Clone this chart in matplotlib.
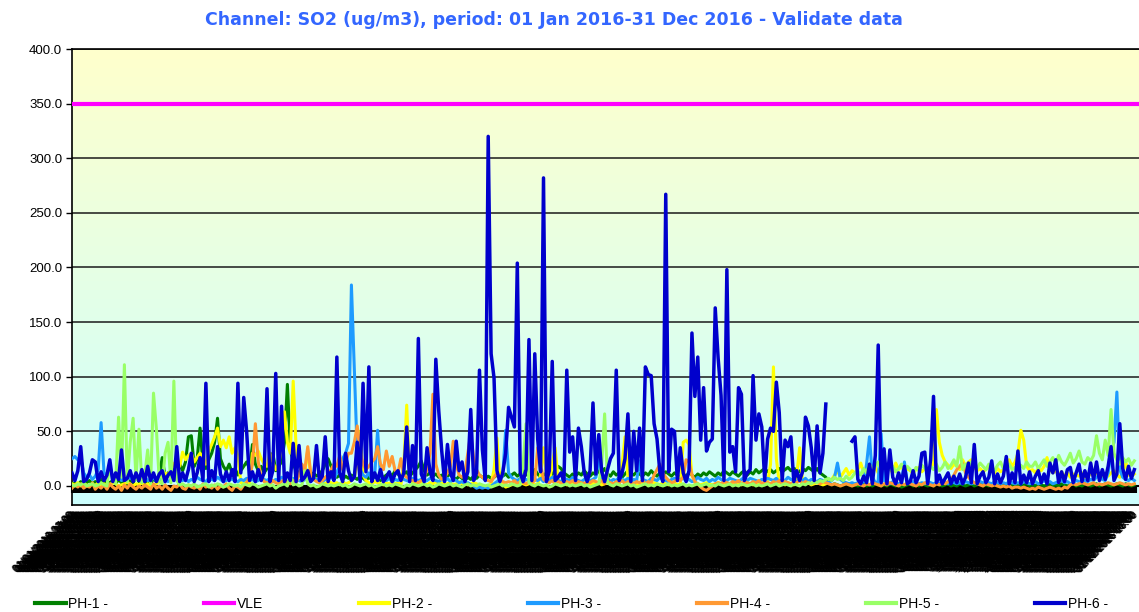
import numpy as np
import pandas as pd
import matplotlib
matplotlib.use("Agg")
import matplotlib.pyplot as plt
from matplotlib.lines import Line2D

nan = np.nan

# ---------------- data (daily readings) ----------------
ph1 = [2, 3, 1, 4, 2, 3, 5, 2, 4, 3,
       6, 2, 4, 3, 5, 2, 6, 3, 4, 2,
       5, 3, 8, 4, 6, 3, 5, 2, 7, 4,
       10, 26, 8, 12, 9, 15, 11, 20, 14, 22,
       45, 46, 18, 25, 53, 20, 16, 24, 30, 40,
       62, 25, 18, 14, 20, 12, 16, 10, 14, 18,
       22, 16, 38, 20, 14, 18, 12, 16, 20, 30,
       14, 18, 22, 40, 93, 35, 20, 14, 12, 16,
       18, 10, 8, 12, 9, 11, 14, 20, 25, 18,
       12, 8, 10, 6, 9, 7, 10, 8, 6, 9,
       7, 5, 8, 6, 9, 7, 5, 8, 10, 12,
       9, 14, 11, 8, 10, 13, 9, 12, 15, 18,
       23, 14, 10, 12, 9, 11, 8, 10, 7, 9,
       11, 8, 6, 9, 7, 5, 8, 6, 9, 7,
       10, 8, 6, 9, 7, 8, 10, 12, 9, 11,
       8, 10, 12, 9, 11, 14, 10, 12, 9, 15,
       11, 8, 10, 12, 9, 11, 14, 18, 16, 12,
       10, 8, 11, 9, 12, 10, 14, 11, 9, 12,
       10, 14, 12, 16, 11, 9, 13, 10, 12, 8,
       11, 14, 12, 10, 13, 11, 9, 12, 10, 14,
       11, 9, 12, 10, 13, 11, 9, 12, 10, 8,
       11, 9, 12, 10, 8, 11, 9, 12, 10, 13,
       11, 9, 12, 10, 14, 12, 10, 13, 11, 9,
       12, 14, 10, 13, 11, 15, 12, 14, 16, 13,
       15, 12, 14, 16, 13, 15, 17, 14, 16, 15,
       13, 16, 14, 17, 15, 13, 16, 12, 10, 8,
       2, 1, 2, 1, 0, 1, 2, 1, 0, 1,
       0, 1, 2, 0, 1, 0, 2, 1, 0, 1,
       0, 2, 1, 0, 1, -1, 0, 1, 2, 0,
       1, 0, 2, 1, 0, 1, 0, 2, 1, 0,
       1, 2, 0, 1, 0, 2, 1, 0, 1, 2,
       0, 1, 2, 0, 1, 0, 2, 1, 0, 1,
       2, 0, 1, 0, 1, 2, 0, 1, 2, 0,
       1, 0, 2, 1, 0, 1, 2, 0, 1, 0,
       2, 1, 0, 1, 2, 0, 1, 0, 2, 1,
       0, 1, 2, 0, 1, 2, 1, 0, 1, 2,
       1, 0, 2, 1, 0, 1]

ph2 = [2, 1, 3, 0, 2, 1, 0, 2, 0, 3,
       1, 2, 0, 1, 3, 2, 0, 1, 2, 4,
       1, 0, 2, 1, 3, 0, 2, 0, 1, 2,
       5, 8, 12, 10, 15, 20, 24, 18, 31, 24,
       28, 30, 22, 26, 30, 25, 20, 32, 38, 45,
       53, 36, 42, 35, 45, 30, 35, 28, 3, 2,
       4, 2, 30, 28, 32, 25, 20, 18, 30, 22,
       15, 20, 35, 68, 40, 30, 96, 35, 20, 15,
       12, 33, 10, 8, 6, 4, 3, 2, 4, 3,
       2, 3, 1, 4, 2, 3, 5, 8, 20, 50,
       10, 5, 3, 2, 4, 3, 2, 1, 3, 2,
       4, 2, 3, 1, 20, 74, 8, 3, 2, 4,
       3, 2, 1, 3, 2, 4, 2, 3, 1, 2,
       3, 1, 2, 4, 2, 3, 1, 2, 3, 2,
       1, 0, -1, 0, 2, 15, 44, 5, 2, -1,
       0, 1, 2, 1, 3, 2, 1, 2, 3, 1,
       2, 10, 35, 8, 3, 20, 35, 6, 2, 3,
       1, 2, 3, 2, 1, 2, 3, 2, 1, 3,
       2, 3, 1, 2, 3, 2, 1, 3, 2, 20,
       45, 8, 2, 3, 1, 2, 3, 2, 1, 2,
       3, 2, 1, 3, 2, 1, 2, 3, 1, 2,
       40, 42, 38, 10, 3, 2, 1, 2, 3, 2,
       1, 2, 3, 2, 1, 3, 2, 1, 2, 3,
       1, 2, 3, 2, 1, 2, 3, 2, 1, 3,
       20, 109, 25, 3, 2, 1, 3, 2, 1, 10,
       35, 5, 2, 3, 1, 2, 3, 2, 1, 2,
       4, 6, 10, 14, 8, 12, 16, 10, 14, 12,
       15, 21, 12, 16, 18, 14, 17, 12, 15, 19,
       14, 16, 12, 21, 15, 18, 13, 16, 14, 12,
       15, 17, 13, 16, 14, 18, 20, 70, 40, 28,
       22, 19, 16, 20, 18, 15, 24, 18, 22, 24,
       17, 14, 16, 13, 15, 18, 14, 12, 16, 13,
       15, 20, 24, 18, 22, 30, 51, 42, 18, 14,
       15, 12, 16, 14, 18, 26, 15, 12, 14, 10,
       13, 9, 12, 8, 11, 10, 9, 12, 8, 10,
       11, 9, 12, 10, 8, 11, 9, 12, 14, 10,
       8, 12, 23, 10, 9, 11]

ph3 = [25, 27, 24, 26, 12, 8, 10, 6, 9, 15,
       58, 12, 10, 14, 8, 6, 9, 5, 7, 6,
       8, 5, 7, 6, 4, 8, 5, 6, 7, 5,
       6, 5, 7, 4, 6, 5, 8, 6, 5, 7,
       4, 6, 5, 8, 6, 5, 4, 7, 6, 5,
       8, 6, 4, 5, 7, 6, 5, 4, 6, 5,
       7, 5, 6, 4, 5, 8, 6, 5, 7, 4,
       6, 5, 8, 6, 4, 5, 7, 6, 5, 4,
       6, 8, 5, 7, 6, 5, 4, 6, 10, 8,
       6, 12, 20, 25, 30, 39, 184, 107, 30, 15,
       10, 8, 12, 6, 10, 51, 8, 6, 5, 7,
       4, 6, 5, 8, 6, 5, 4, 7, 6, 5,
       6, 4, 5, 7, 6, 5, 4, 6, 5, 7,
       4, 6, 5, 3, 4, 2, 3, 1, 0, -2,
       -1, -2, -1, -2, 0, 2, 4, 6, 10, 51,
       12, 8, 6, 5, 7, 4, 6, 5, 8, 6,
       5, 7, 4, 6, 5, 8, 6, 5, 4, 7,
       6, 5, 8, 6, 5, 4, 6, 7, 5, 6,
       8, 26, 6, 5, 7, 4, 6, 5, 8, 6,
       5, 7, 4, 6, 5, 23, 6, 5, 4, 7,
       6, 5, 8, 6, 5, 4, 6, 7, 5, 6,
       7, 5, 6, 4, 5, 8, 6, 5, 7, 4,
       6, 5, 8, 6, 4, 5, 7, 6, 5, 4,
       6, 8, 5, 7, 6, 5, 4, 6, 5, 7,
       6, 5, 7, 4, 6, 5, 8, 6, 5, 4,
       6, 5, 7, 4, 6, 5, 4, 6, 5, 4,
       3, 5, 8, 21, 6, 4, 3, 2, 3, 2,
       3, 2, 4, 20, 45, 8, 3, 4, 48, 5,
       3, 2, 4, 3, 2, 3, 22, 3, 2, 4,
       3, 2, 3, 2, 4, 3, 2, 3, 2, 4,
       3, 2, 4, 3, 2, 3, 2, 4, 3, 2,
       3, 2, 4, 3, 2, 3, 2, 4, 3, 2,
       3, 2, 4, 3, 2, 3, 2, 4, 3, 2,
       3, 4, 2, 3, 5, 3, 4, 2, 3, 4,
       5, 3, 4, 2, 3, 5, 4, 3, 5, 4,
       6, 5, 8, 10, 6, 5, 12, 30, 40, 86,
       15, 8, 6, 5, 7, 5]

ph4 = [-2, 1, -1, 2, -2, 0, -1, 3, -3, 0,
       -2, 1, -3, 2, -1, -3, 0, -4, 1, -2,
       2, -1, -3, 0, -2, 1, -1, -3, 2, -2,
       0, -3, 1, -2, -4, 0, -1, 2, -2, -3,
       1, -1, -2, 0, -3, 2, -1, 0, -2, 1,
       -3, 0, -1, 2, -2, -4, 0, -1, -3, 1,
       3, 8, 20, 57, 22, 8, 4, 3, 2, 5,
       3, 2, 4, 6, 3, 2, 5, 3, 10, 20,
       15, 36, 12, 6, 4, 3, 5, 8, 10, 15,
       20, 18, 28, 15, 22, 30, 30, 40, 55, 30,
       20, 15, 18, 22, 25, 36, 20, 15, 32, 18,
       27, 14, 12, 25, 10, 8, 6, 5, 4, 3,
       5, 8, 15, 30, 84, 20, 10, 6, 8, 12,
       18, 41, 20, 10, 8, 12, 30, 48, 25, 15,
       10, 8, 6, 5, 4, 8, 12, 6, 4, 3,
       4, 3, 5, 2, 4, 3, 2, 4, 3, 5,
       35, 20, 6, 4, 3, 5, 2, 4, 3, 2,
       4, 3, 5, 2, 4, 3, 2, 4, 3, 5,
       4, 3, 5, 2, 4, 3, 2, 4, 3, 5,
       2, 4, 3, 2, 4, 3, 5, 2, 4, 3,
       10, 15, 20, 12, 8, 5, 3, 4, 6, 5,
       8, 24, 22, 10, 4, 2, -1, -3, -4, -2,
       0, 2, 3, 2, 4, 3, 2, 4, 3, 5,
       2, 4, 3, 2, 4, 3, 5, 2, 4, 3,
       2, 4, 3, 5, 2, 4, 3, 2, 4, 3,
       5, 2, 4, 3, 2, 4, 3, 2, 4, 3,
       2, 1, 2, 1, 0, 1, 2, 1, 0, 1,
       2, 1, 0, 2, 1, 3, 2, 1, 0, 2,
       1, 3, 2, 1, 0, 2, 1, 3, 2, 1,
       0, 2, 1, 3, 2, 1, 0, 2, 1, 3,
       2, 4, 6, 10, 15, 18, 21, 12, 8, 5,
       3, 2, 1, 0, 2, 1, 0, 1, 0, -1,
       0, -1, 0, -2, -1, -1, -2, -1, -2, -3,
       -2, -3, -1, -2, -3, -2, -1, -2, -3, -2,
       -3, -1, -2, 1, 2, 1, 2, 3, 2, 1,
       2, 3, 1, 2, 1, 2, 3, 2, 1, 2,
       3, 2, 1, 2, 1, 2]

ph5 = [1, 0, 2, 1, 3, 0, 1, 2, 0, 1,
       3, 1, 0, 20, 5, 2, 63, 8, 111, 4,
       40, 62, 6, 52, 3, 10, 33, 2, 85, 52,
       4, 2, 30, 40, 3, 96, 5, 1, 2, 0,
       1, 0, 2, -1, 0, 1, 2, -1, 1, 0,
       2, 1, -1, 0, 2, 1, 0, 1, -1, 2,
       1, 0, 2, 1, -1, 0, 1, 2, 0, 1,
       -2, 0, 1, 2, 0, 10, 1, 2, 0, 1,
       14, 2, 0, 1, -1, 0, 2, 1, 0, 1,
       0, 1, 2, 0, 1, -1, 0, 2, 1, 0,
       1, 2, 0, 1, -1, 0, 1, 2, 0, 1,
       0, 2, 1, 0, -1, 1, 0, 2, 1, 0,
       1, 2, 0, 1, -1, 0, 2, 1, 0, 1,
       2, 0, 1, 0, -1, 1, 2, 0, 1, 0,
       2, 1, 0, 1, -1, 0, 1, 2, 0, 1,
       0, 2, 1, 0, 1, 20, 57, 3, 1, 0,
       2, 1, 0, 1, -1, 0, 2, 1, 0, 1,
       2, 0, 1, 0, 1, 2, 0, 1, -1, 0,
       1, 2, 20, 66, 3, 1, 0, 2, 1, 0,
       1, 2, 0, 1, -1, 0, 1, 2, 0, 1,
       0, 2, 1, 0, 1, 2, 0, 1, 0, 1,
       2, 0, 1, 0, 1, 2, 0, 1, 2, 0,
       1, 0, 2, 1, 0, 1, 2, 0, 1, 0,
       2, 1, 0, 1, 2, 0, 1, 0, 1, 2,
       0, 1, 2, 0, 1, 2, 1, 0, 2, 1,
       0, 2, 1, 3, 2, 4, 3, 5, 4, 6,
       7, 5, 8, 6, 7, 5, 9, 6, 8, 12,
       14, 10, 16, 12, 20, 15, 18, 22, 14, 17,
       20, 15, 18, 13, 16, 20, 14, 18, 15, 12,
       17, 14, 19, 16, 13, 18, 15, 20, 14, 17,
       22, 16, 19, 24, 18, 36, 15, 20, 17, 22,
       19, 16, 21, 18, 15, 20, 17, 14, 19, 22,
       16, 18, 20, 15, 17, 14, 19, 16, 22, 18,
       18, 22, 16, 20, 24, 18, 22, 26, 20, 28,
       22, 19, 24, 30, 21, 25, 32, 22, 20, 26,
       23, 28, 46, 30, 24, 42, 28, 70, 30, 24,
       20, 26, 22, 25, 19, 23]

ph6 = [12, 5, 14, 36, 4, 6, 12, 24, 22, 4,
       13, 5, 10, 24, 4, 12, 6, 33, 5, 7,
       14, 4, 12, 5, 15, 4, 18, 5, 12, 4,
       11, 14, 4, 10, 13, 5, 36, 4, 12, 5,
       15, 30, 4, 12, 26, 5, 94, 4, 14, 5,
       36, 11, 4, 13, 5, 15, 4, 94, 12, 81,
       50, 5, 13, 4, 15, 5, 12, 89, 4, 14,
       103, 5, 73, 4, 12, 5, 39, 4, 37, 5,
       8, 14, 4, 7, 37, 5, 9, 45, 4, 13,
       5, 118, 12, 4, 30, 14, 5, 8, 40, 4,
       94, 13, 109, 4, 12, 5, 15, 4, 8, 13,
       4, 11, 14, 5, 12, 54, 4, 37, 5, 135,
       11, 4, 35, 13, 5, 116, 69, 33, 4, 38,
       12, 5, 41, 14, 22, 4, 13, 70, 5, 12,
       106, 33, 5, 320, 121, 99, 14, 4, 12, 30,
       72, 63, 54, 204, 12, 4, 15, 134, 5, 121,
       43, 13, 282, 4, 14, 114, 5, 8, 12, 4,
       106, 31, 45, 5, 53, 36, 12, 4, 14, 76,
       11, 47, 13, 4, 15, 25, 30, 106, 5, 12,
       25, 66, 4, 50, 14, 53, 5, 109, 102, 101,
       57, 43, 12, 4, 267, 13, 52, 50, 5, 35,
       12, 4, 14, 140, 82, 118, 42, 90, 32, 40,
       43, 163, 117, 83, 5, 198, 31, 36, 13, 90,
       84, 5, 12, 15, 101, 42, 66, 54, 5, 43,
       53, 50, 95, 67, 5, 42, 36, 45, 4, 14,
       5, 13, 63, 55, 35, 5, 55, 12, 30, 75,
       nan, nan, nan, nan, nan, nan, nan, nan, 41, 45,
       6, 2, 9, 3, 20, 2, 28, 129, 3, 34,
       2, 33, 8, 2, 12, 3, 18, 2, 4, 14,
       3, 9, 30, 31, 2, 24, 82, 3, 10, 2,
       7, 12, 2, 9, 3, 11, 2, 8, 21, 3,
       38, 2, 9, 13, 3, 8, 23, 2, 11, 3,
       9, 27, 2, 12, 3, 32, 2, 10, 3, 13,
       2, 9, 14, 3, 11, 2, 21, 12, 24, 3,
       13, 4, 15, 17, 3, 12, 20, 4, 14, 5,
       21, 6, 22, 5, 15, 6, 18, 36, 5, 11,
       57, 16, 6, 18, 7, 15]

vle_limit = 350.0

series_names = ["PH-1 -", "PH-2 -", "PH-3 -", "PH-4 -", "PH-5 -", "PH-6 -"]
series_values = [ph1, ph2, ph3, ph4, ph5, ph6]
series_colors = ["#008000", "#FFFF00", "#1E9BFF", "#FF9933", "#99FF66", "#0000CC"]

# category labels (one every 6 hours through 2016)
stamps = pd.date_range("2016-01-01 01:00", periods=366 * 4, freq="6h")
category_labels = list(stamps.strftime("%d/%m/%Y %H:%M"))

y_ticks = [0, 50, 100, 150, 200, 250, 300, 350, 400]
y_tick_labels = [f"{v:.1f}" for v in y_ticks]

title = "Channel: SO2 (ug/m3), period: 01 Jan 2016-31 Dec 2016 - Validate data"

# ---------------- figure ----------------
W, H, DPI = 1139, 612, 100
fig = plt.figure(figsize=(W / DPI, H / DPI), dpi=DPI)
fig.patch.set_facecolor("white")

left_px, right_px, top_px, bottom_px = 72, 1139, 49, 505
ax = fig.add_axes([left_px / W, 1 - bottom_px / H,
                   (right_px - left_px) / W, (bottom_px - top_px) / H])

ymin, ymax = -17.4, 400.0
xmin, xmax = 0, 366.6

# background gradient (cyan at bottom, pale yellow at top)
bottom_rgb = np.array([204, 255, 255]) / 255.0
top_rgb = np.array([255, 255, 204]) / 255.0
t = np.linspace(0, 1, 256)[:, None]
grad = (bottom_rgb[None, :] * (1 - t) + top_rgb[None, :] * t)[:, None, :]
ax.imshow(grad, extent=[xmin, xmax, ymin, ymax], origin="lower",
          aspect="auto", zorder=0, interpolation="bilinear")

# series (Excel order: PH-1, VLE, PH-2 ... PH-6)
handles = []
for i, (name, vals, col) in enumerate(zip(series_names, series_values, series_colors)):
    xs = np.arange(len(vals))
    lw = 2.5 if name == "PH-6 -" else 2.2
    ln, = ax.plot(xs, vals, color=col, lw=lw, zorder=3 + i, label=name)
    handles.append(ln)
vle_line = ax.axhline(vle_limit, color="#FF00FF", lw=3.0, zorder=2.9, label="VLE")

ax.set_xlim(xmin, xmax)
ax.set_ylim(ymin, ymax)

# y axis
ax.set_yticks(y_ticks, labels=y_tick_labels)
ax.tick_params(axis="y", direction="out", length=4, width=1, pad=3, labelsize=9.5)
for lab in ax.get_yticklabels():
    lab.set_fontfamily("Liberation Sans")
ax.yaxis.grid(True, color="#1a1a1a", lw=1.1)
ax.set_axisbelow(True)

# category axis crossing at zero, with very dense tick marks
ax.spines["bottom"].set_position(("data", 0))
ax.spines["bottom"].set_linewidth(1.5)
ax.set_xticks(np.arange(0, 366, 0.5))
ax.tick_params(axis="x", direction="out", length=5, width=1.5,
               labelbottom=False, color="black")
ax.spines["right"].set_visible(False)
ax.spines["top"].set_linewidth(1.2)
ax.spines["left"].set_linewidth(1.2)

# category labels at the bottom of the plot area
sec = ax.secondary_xaxis("bottom")
sec.set_xticks(np.arange(len(category_labels)) / 4.0)
sec.set_xticklabels(category_labels, rotation=45, ha="right", va="center",
                    rotation_mode="anchor", fontsize=7.5, family="Liberation Sans")
sec.tick_params(axis="x", length=0, pad=6)
sec.spines["bottom"].set_linewidth(1.2)

# title
fig.text(554 / W, 1 - 20 / H, title, ha="center", va="center",
         fontsize=12.5, fontweight="bold", color="#3366FF", family="DejaVu Sans")

# legend (series order as in the reference)
leg_handles = [handles[0], vle_line] + handles[1:]
leg_labels = [h.get_label() for h in leg_handles]
leg_lines = [Line2D([0], [0], color=h.get_color(), lw=3.0) for h in leg_handles]
fig.legend(leg_lines, leg_labels, loc="center", ncol=7, mode="expand",
           bbox_to_anchor=(35 / W, 1 - 613 / H, (1108 - 35) / W, 18 / H),
           frameon=False, borderpad=0, borderaxespad=0, handlelength=2.2,
           handletextpad=0.2, prop={"family": "Liberation Sans", "size": 10})

fig.savefig("out.png", dpi=DPI, facecolor="white")
